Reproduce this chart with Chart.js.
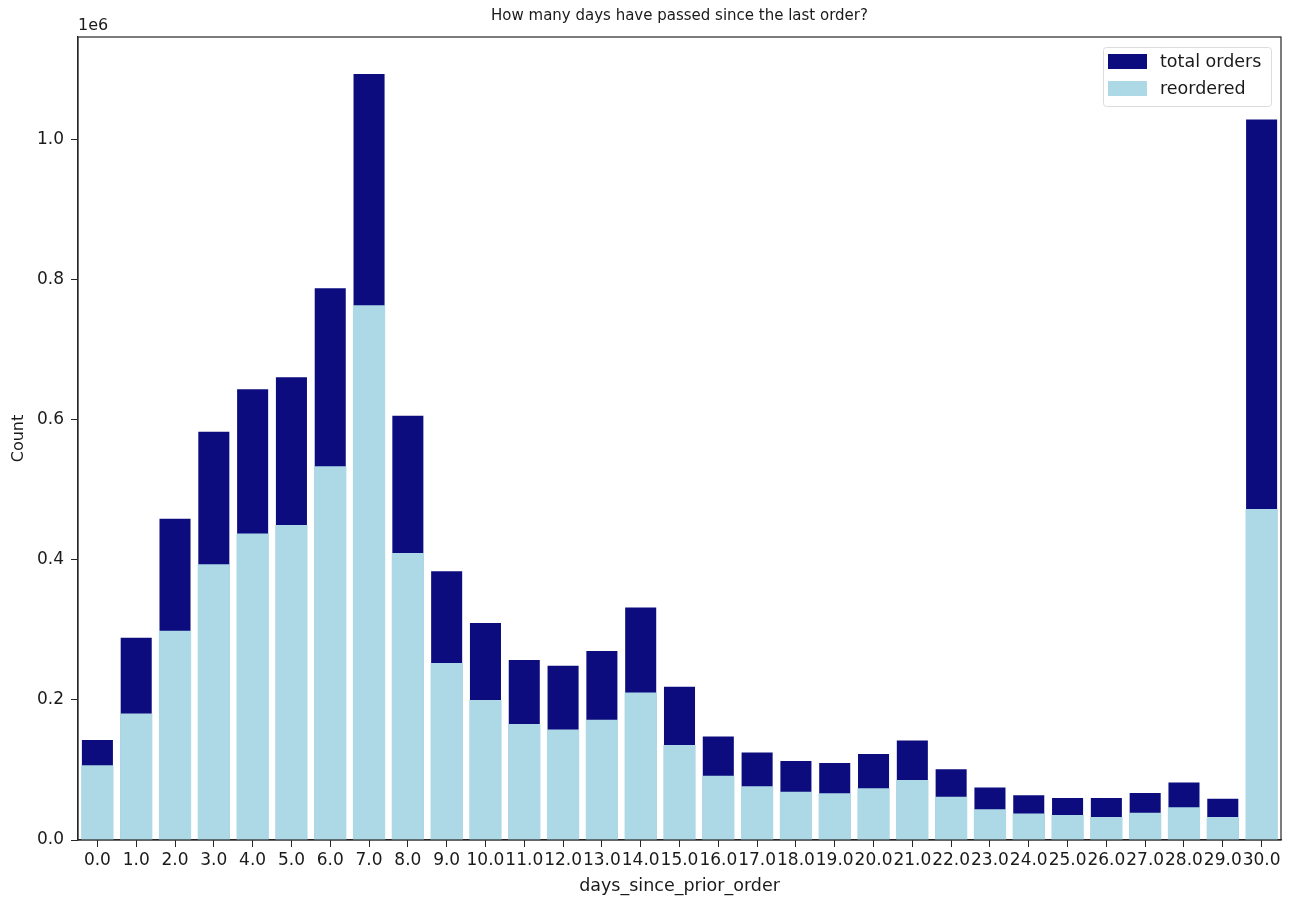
<!DOCTYPE html>
<html>
<head>
<meta charset="utf-8">
<title>days_since_prior_order</title>
<script src="https://cdn.jsdelivr.net/npm/chart.js@4.4.0/dist/chart.umd.min.js"></script>
<style>
  html, body { margin: 0; padding: 0; background: #fff; }
  #wrap { width: 1291px; height: 899px; }
</style>
</head>
<body>
<div id="wrap"><canvas id="grafico" width="1291" height="899"></canvas></div>
<script>
// Dados
const dias = ["0.0", "1.0", "2.0", "3.0", "4.0", "5.0", "6.0", "7.0", "8.0", "9.0",
  "10.0", "11.0", "12.0", "13.0", "14.0", "15.0", "16.0", "17.0", "18.0", "19.0",
  "20.0", "21.0", "22.0", "23.0", "24.0", "25.0", "26.0", "27.0", "28.0", "29.0", "30.0"];

const totalPedidos = [143000, 289000, 459000, 583000, 644000, 661000, 788000, 1094000, 606000, 384000,
  310000, 257000, 249000, 270000, 332000, 219000, 148000, 125000, 113000, 110000,
  123000, 142000, 101000, 75000, 64000, 60000, 60000, 67000, 82000, 59000, 1029000];

const recomprados = [106000, 180000, 298000, 393000, 437000, 449000, 533000, 763000, 409000, 252000,
  199000, 165000, 157000, 171000, 210000, 135000, 91000, 76000, 68000, 66000,
  73000, 85000, 61000, 43000, 37000, 35000, 32000, 38000, 46000, 32000, 472000];

const yTicks = [0, 200000, 400000, 600000, 800000, 1000000];
const yMax = 1147000;

const FONTE = "'DejaVu Sans', sans-serif";
const COR_EIXO = "#262626";

//
// Plugin: moldura, título, "1e6" e legenda dentro do gráfico
//
const extrasPlugin = {
  id: "extras",
  afterDraw(chart) {
    const { ctx, chartArea } = chart;
    const { left, right, top, bottom } = chartArea;
    ctx.save();

    // moldura (spines)
    ctx.strokeStyle = COR_EIXO;
    ctx.lineWidth = 1.2;
    ctx.strokeRect(left, top, right - left, bottom - top);

    // título
    ctx.fillStyle = "#1a1a1a";
    ctx.font = "15px " + FONTE;
    ctx.textAlign = "center";
    ctx.textBaseline = "middle";
    ctx.fillText("How many days have passed since the last order?", (left + right) / 2, 16);

    // offset do eixo y
    ctx.font = "16px " + FONTE;
    ctx.textAlign = "left";
    ctx.fillText("1e6", left, 26);

    // legenda
    const boxX = 1103, boxY = 47, boxW = 168, boxH = 59;
    ctx.strokeStyle = "#dcdcdc";
    ctx.fillStyle = "rgba(255,255,255,0.8)";
    ctx.lineWidth = 1;
    ctx.beginPath();
    ctx.roundRect(boxX + 0.5, boxY + 0.5, boxW, boxH, 3);
    ctx.fill();
    ctx.stroke();

    ctx.font = "17.5px " + FONTE;
    ctx.textBaseline = "middle";
    chart.data.datasets.forEach((ds, i) => {
      const y = boxY + 14 + i * 27;
      ctx.fillStyle = ds.backgroundColor;
      ctx.fillRect(boxX + 5, y - 7, 39, 15);
      ctx.fillStyle = "#1a1a1a";
      ctx.fillText(ds.label, boxX + 57, y + 1);
    });

    ctx.restore();
  }
};

function desenharGrafico() {
  const ctx = document.getElementById("grafico");
  new Chart(ctx, {
    type: "bar",
    data: {
      labels: dias,
      datasets: [
        {
          label: "total orders",
          data: totalPedidos,
          backgroundColor: "#0c0c7e",
          inflateAmount: 0,
          order: 1
        },
        {
          label: "reordered",
          data: recomprados,
          backgroundColor: "#add8e6",
          inflateAmount: 0.6,
          order: 0
        }
      ]
    },
    options: {
      responsive: false,
      animation: false,
      events: [],
      datasets: {
        bar: {
          grouped: false,
          barPercentage: 0.8,
          categoryPercentage: 1.0,
          borderWidth: 0
        }
      },
      layout: {
        padding: { top: 37, right: 10, bottom: 0, left: 0 }
      },
      plugins: {
        legend: { display: false },
        title: { display: false },
        tooltip: { enabled: false }
      },
      scales: {
        x: {
          offset: true,
          afterFit: (scale) => { scale.height = 59; },
          grid: {
            drawOnChartArea: false,
            drawTicks: true,
            tickLength: 7,
            color: COR_EIXO,
            offset: false
          },
          border: { display: true, color: COR_EIXO, width: 1.2 },
          ticks: {
            autoSkip: false,
            maxRotation: 0,
            minRotation: 0,
            padding: 3,
            color: "#1a1a1a",
            font: { family: FONTE, size: 17 }
          },
          title: {
            display: true,
            text: "days_since_prior_order",
            color: "#1a1a1a",
            font: { family: FONTE, size: 17.5 },
            padding: { top: 0, bottom: 2 }
          }
        },
        y: {
          min: 0,
          max: yMax,
          afterFit: (scale) => { scale.width = 78; },
          afterBuildTicks: (scale) => {
            scale.ticks = yTicks.map(v => ({ value: v }));
          },
          grid: {
            drawOnChartArea: false,
            drawTicks: true,
            tickLength: 7,
            color: COR_EIXO
          },
          border: { display: true, color: COR_EIXO, width: 1.2 },
          ticks: {
            padding: 7,
            color: "#1a1a1a",
            font: { family: FONTE, size: 17 },
            callback: (v) => (v / 1e6).toFixed(1)
          },
          title: {
            display: true,
            text: "Count",
            color: "#1a1a1a",
            font: { family: FONTE, size: 16 },
            padding: { top: 9, bottom: 0 }
          }
        }
      }
    },
    plugins: [extrasPlugin]
  });
}

document.addEventListener("DOMContentLoaded", desenharGrafico);
</script>
</body>
</html>
